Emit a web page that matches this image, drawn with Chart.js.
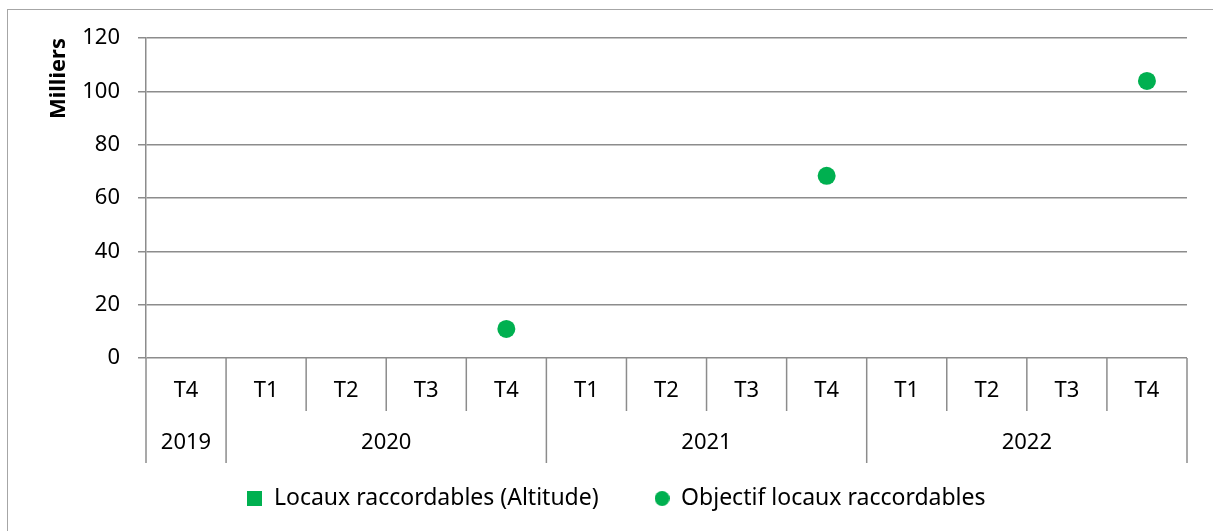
<!DOCTYPE html>
<html>
<head>
<meta charset="utf-8">
<script src="https://cdn.jsdelivr.net/npm/chart.js@4"></script>
<style>
  html, body { margin: 0; padding: 0; background: #fff; }
  #wrap { width: 1213px; height: 531px; }
</style>
</head>
<body>
<div id="wrap"><canvas id="myChart" width="1213" height="531"></canvas></div>
<script>
var trimestres = ["T4", "T1", "T2", "T3", "T4", "T1", "T2", "T3", "T4", "T1", "T2", "T3", "T4"];
var annees = ["2019", "2020", "2020", "2020", "2020", "2021", "2021", "2021", "2021", "2022", "2022", "2022", "2022"];
var locauxAltitude = [0, 0, 0, 0, 0, 0, 0, 0, 0, 0, 0, 0, 0];
var objectifLocaux = [null, null, null, null, 10.9, null, null, null, 68.3, null, null, null, 103.9];
var yTicks = { min: 0, max: 120, step: 20 };

var vert = "#00B050";
var gris = "#8c8c8c";
var police = "'Noto Sans'";

// petites icones de legende (carre / rond de 15 px)
var iconeLegende = function (forme) {
    var c = document.createElement("canvas");
    c.width = 15;
    c.height = 15;
    var g = c.getContext("2d");
    g.fillStyle = vert;
    if (forme === "rond") {
        g.beginPath();
        g.arc(7.5, 7.5, 7.5, 0, Math.PI * 2);
        g.fill();
    } else {
        g.fillRect(0, 0, 15, 15);
    }
    return c;
};
var icones = [iconeLegende("carre"), iconeLegende("rond")];

// cadre + separateurs de l'axe a deux niveaux (T / annee)
var axeGroupe = {
    id: "axeGroupe",
    beforeDraw: function (chart) {
        var ctx = chart.ctx;
        ctx.save();
        ctx.strokeStyle = "#a6a6a6";
        ctx.lineWidth = 1;
        ctx.strokeRect(7.5, 9.5, 1400, 700);
        ctx.restore();
    },
    afterDraw: function (chart) {
        var ctx = chart.ctx;
        var x = chart.scales.x;
        var area = chart.chartArea;
        var yBas = area.bottom;
        var yT = yBas + 53;
        var yAn = yBas + 105;
        var n = trimestres.length;
        ctx.save();
        ctx.strokeStyle = gris;
        ctx.lineWidth = 1.5;
        for (var i = 0; i <= n; i++) {
            var px;
            if (i === 0) px = area.left;
            else if (i === n) px = area.right;
            else px = (x.getPixelForValue(i - 1) + x.getPixelForValue(i)) / 2;
            var finAnnee = (i === 0 || i === n || annees[i] !== annees[i - 1]);
            ctx.beginPath();
            ctx.moveTo(px, yBas);
            ctx.lineTo(px, finAnnee ? yAn : yT);
            ctx.stroke();
        }
        // libelles des annees
        ctx.fillStyle = "#000";
        ctx.font = "22px " + police;
        ctx.textAlign = "center";
        ctx.textBaseline = "middle";
        var debut = 0;
        for (var j = 1; j <= n; j++) {
            if (j === n || annees[j] !== annees[debut]) {
                var cx = (x.getPixelForValue(debut) + x.getPixelForValue(j - 1)) / 2;
                ctx.fillText(annees[debut], cx, yBas + 85);
                debut = j;
            }
        }
        ctx.restore();
    }
};

var ctx = document.getElementById("myChart").getContext("2d");
var chart = new Chart(ctx, {
    type: "bar",
    data: {
        labels: trimestres,
        datasets: [{
            label: "Locaux raccordables (Altitude)",
            data: locauxAltitude,
            backgroundColor: vert,
            borderWidth: 0
        }, {
            type: "line",
            label: "Objectif locaux raccordables",
            data: objectifLocaux,
            showLine: false,
            backgroundColor: vert,
            borderColor: vert,
            pointRadius: 9,
            pointHoverRadius: 9,
            pointBorderWidth: 0,
            pointStyle: "circle"
        }]
    },
    options: {
        responsive: false,
        animation: { duration: 0 },
        layout: { padding: { left: 46, right: 26, top: 38, bottom: 11 } },
        scales: {
            x: {
                offset: true,
                grid: { display: false },
                border: { display: false },
                ticks: { color: "#000", font: { family: police, size: 22 }, padding: 12, maxRotation: 0, autoSkip: false },
                afterFit: function (scale) { scale.height = 73; }
            },
            y: {
                min: yTicks.min,
                max: yTicks.max,
                ticks: { stepSize: yTicks.step, color: "#000", font: { family: police, size: 22 }, padding: 18 },
                grid: { color: gris, lineWidth: 1.5, tickLength: 8 },
                border: { color: gris, width: 1.5 },
                title: {
                    display: true,
                    text: "Milliers",
                    align: "end",
                    color: "#000",
                    font: { family: police, size: 22, weight: "bold" },
                    padding: { top: 0, bottom: 0 }
                },
                afterFit: function (scale) { scale.width = 100; }
            }
        },
        plugins: {
            tooltip: { enabled: false },
            legend: {
                position: "bottom",
                labels: {
                    usePointStyle: true,
                    boxWidth: 15,
                    boxHeight: 15,
                    color: "#000",
                    padding: 56,
                    font: { family: police, size: 23 },
                    generateLabels: function (chart) {
                        var items = Chart.defaults.plugins.legend.labels.generateLabels(chart);
                        items.forEach(function (item, i) { item.pointStyle = icones[i]; });
                        return items;
                    }
                }
            }
        }
    },
    plugins: [axeGroupe]
});
</script>
</body>
</html>
